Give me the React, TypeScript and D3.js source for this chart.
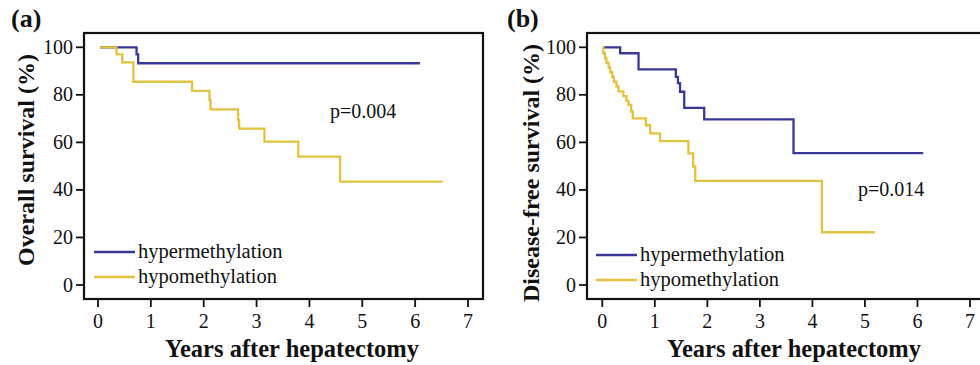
import React from "react";
import * as d3 from "d3";

// ---- data ----
const yearTicks = [0, 1, 2, 3, 4, 5, 6, 7];
const survTicks = [0, 20, 40, 60, 80, 100];
const legendLabels = ["hypermethylation", "hypomethylation"];

// (a) Overall survival
const osHyperTime = [0.04, 0.73, 0.76, 6.09];
const osHyperSurv = [100, 97, 93.3, 93.3];
const osHypoTime = [0.04, 0.35, 0.46, 0.67, 1.78, 2.11, 2.13, 2.65, 2.67, 3.15, 3.79, 4.58, 6.52];
const osHypoSurv = [100, 97, 93.7, 85.5, 81.7, 77.9, 73.9, 69.4, 65.8, 60.3, 54, 43.5, 43.5];

// (b) Disease-free survival
const dfsHyperTime = [0.02, 0.34, 0.69, 1.4, 1.44, 1.48, 1.56, 1.94, 3.64, 6.11];
const dfsHyperSurv = [100, 97.5, 90.7, 87.6, 84.9, 81.3, 74.5, 69.7, 55.5, 55.5];
const dfsHypoTime = [0.0, 0.02, 0.05, 0.08, 0.12, 0.15, 0.19, 0.22, 0.27, 0.31, 0.4, 0.46, 0.5, 0.55, 0.58, 0.83, 0.91, 1.1, 1.64, 1.73, 1.77, 4.18, 5.19];
const dfsHypoSurv = [100, 97.5, 95.5, 93.5, 91.5, 89.5, 87.5, 85.5, 83.5, 81.5, 79.5, 77.5, 75.8, 73, 70.1, 67.2, 63.8, 60.5, 55.4, 49.8, 43.8, 22.2, 22.2];

const BLUE = "#3a3896";
const YELLOW = "#e2c23e";
const FONT = "'Liberation Serif', 'Times New Roman', serif";

type PanelProps = {
  label: string;
  yTitle: string;
  pText: string;
  frame: [number, number, number, number];
  xRange: [number, number];
  yRange: [number, number];
  hyperT: number[];
  hyperS: number[];
  hypoT: number[];
  hypoS: number[];
  labelPos: [number, number];
  yTitlePos: [number, number];
  xTitleX: number;
  pPos: [number, number];
  legendPos: [number, number];
};

function Panel(p: PanelProps) {
  const x = d3.scaleLinear().domain([0, 7]).range(p.xRange);
  const y = d3.scaleLinear().domain([0, 100]).range(p.yRange);
  const line = d3
    .line<[number, number]>()
    .x((d) => x(d[0]))
    .y((d) => y(d[1]))
    .curve(d3.curveStepAfter);
  const hyper = p.hyperT.map((t, i) => [t, p.hyperS[i]] as [number, number]);
  const hypo = p.hypoT.map((t, i) => [t, p.hypoS[i]] as [number, number]);
  const [fx0, fy0, fx1, fy1] = p.frame;
  return (
    <g fontFamily={FONT} fill="#111">
      <text x={p.labelPos[0]} y={p.labelPos[1]} fontSize={26} fontWeight="bold">
        {p.label}
      </text>
      <rect x={fx0} y={fy0} width={fx1 - fx0} height={fy1 - fy0} fill="none" stroke="#111" strokeWidth={2.2} />
      {survTicks.map((v) => (
        <g key={"y" + v}>
          <line x1={fx0 - 8} x2={fx0} y1={y(v)} y2={y(v)} stroke="#111" strokeWidth={1.8} />
          <text x={fx0 - 11} y={y(v) + 6.5} fontSize={20} textAnchor="end">
            {v}
          </text>
        </g>
      ))}
      {yearTicks.map((v) => (
        <g key={"x" + v}>
          <line x1={x(v)} x2={x(v)} y1={fy1} y2={fy1 + 8} stroke="#111" strokeWidth={1.8} />
          <text x={x(v)} y={fy1 + 29} fontSize={20} textAnchor="middle">
            {v}
          </text>
        </g>
      ))}
      <text
        transform={`translate(${p.yTitlePos[0]},${p.yTitlePos[1]}) rotate(-90)`}
        fontSize={24}
        fontWeight="bold"
        textAnchor="middle"
      >
        {p.yTitle}
      </text>
      <text x={p.xTitleX} y={357} fontSize={24.5} fontWeight="bold" textAnchor="middle">
        Years after hepatectomy
      </text>
      <text x={p.pPos[0]} y={p.pPos[1]} fontSize={20}>
        {p.pText}
      </text>
      <path d={line(hyper) || ""} fill="none" stroke={BLUE} strokeWidth={2.3} />
      <path d={line(hypo) || ""} fill="none" stroke={YELLOW} strokeWidth={2.3} />
      {legendLabels.map((l, i) => (
        <g key={l}>
          <line
            x1={p.legendPos[0]}
            x2={p.legendPos[0] + 41}
            y1={p.legendPos[1] + i * 25}
            y2={p.legendPos[1] + i * 25}
            stroke={i === 0 ? BLUE : YELLOW}
            strokeWidth={2.3}
          />
          <text x={p.legendPos[0] + 44} y={p.legendPos[1] + i * 25 + 6} fontSize={20.5}>
            {l}
          </text>
        </g>
      ))}
    </g>
  );
}

export default function App() {
  return (
    <svg
      width={980}
      height={365}
      style={{ position: "absolute", left: 0, top: 0, background: "#fff" }}
    >
      <Panel
        label="(a)"
        yTitle="Overall survival (%)"
        pText="p=0.004"
        frame={[84, 33, 483, 299]}
        xRange={[98, 468]}
        yRange={[285, 47.3]}
        hyperT={osHyperTime}
        hyperS={osHyperSurv}
        hypoT={osHypoTime}
        hypoS={osHypoSurv}
        labelPos={[11, 27]}
        yTitlePos={[34, 160]}
        xTitleX={292}
        pPos={[330, 118]}
        legendPos={[94, 252]}
      />
      <Panel
        label="(b)"
        yTitle="Disease-free survival (%)"
        pText="p=0.014"
        frame={[587, 33, 986, 299]}
        xRange={[602.3, 970]}
        yRange={[285, 47.3]}
        hyperT={dfsHyperTime}
        hyperS={dfsHyperSurv}
        hypoT={dfsHypoTime}
        hypoS={dfsHypoSurv}
        labelPos={[507, 27]}
        yTitlePos={[539, 173]}
        xTitleX={794}
        pPos={[858, 196]}
        legendPos={[596, 255]}
      />
    </svg>
  );
}
